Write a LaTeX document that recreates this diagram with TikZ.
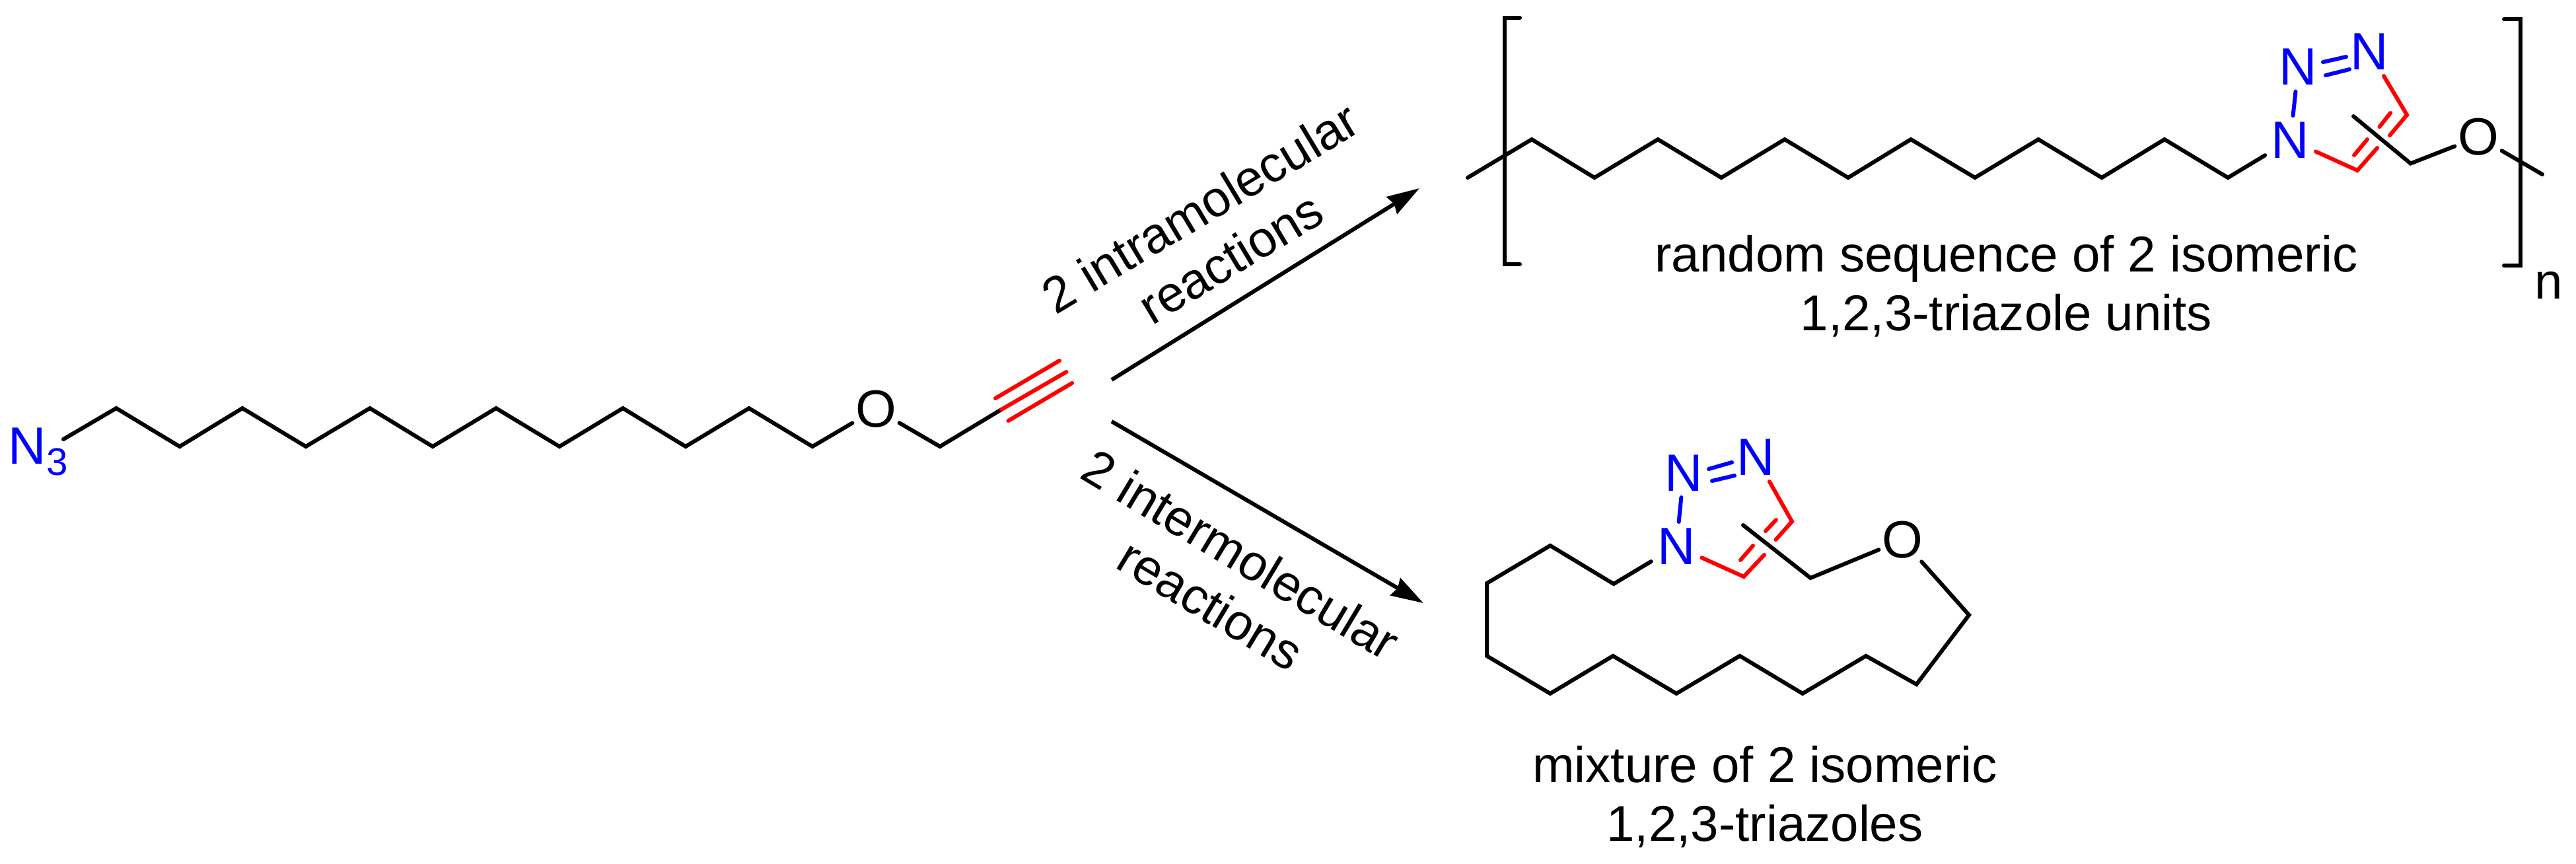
\documentclass[tikz,border=0pt]{standalone}
\usepackage{fontspec}
\setmainfont{Liberation Sans}
\usetikzlibrary{arrows.meta}
\tikzset{
	bond/.style={line width=0.6mm, line cap=round, line join=miter},
	redbond/.style={bond, color=red},
	bluebond/.style={bond, color=blue},
	rxnarrow/.style={line width=0.6mm, -{Stealth[length=4.9mm, width=3mm, inset=0.4mm]}},
	txt/.style={font=\fontsize{21.7}{25.2}\selectfont, align=center, inner sep=0},
	atomN/.style={font=\fontsize{22.6}{26}\selectfont, color=blue, inner sep=0.9mm},
	atomO/.style={font=\fontsize{22.6}{26}\selectfont, inner sep=0.4mm}
}

\begin{document}
\begin{tikzpicture}
		%%%%% START %%%%%
		\useasboundingbox (0, 0) rectangle (39, 13.07);
		
		\node[txt, font=\fontsize{22.6}{26}\selectfont, color=blue, anchor=base west] (azide) at (0.12, 6.05) {N\raisebox{-0.17cm}{\fontsize{16.6}{18}\selectfont 3}};
		\coordinate (azideend) at (0.96, 6.42);
		\node[atomO] (oa) at (13.26, 6.875) {O};
		
		\draw[bond] (azideend) -- (1.76, 6.89) -- (2.72, 6.31) -- (3.67, 6.89) -- (4.63, 6.31) -- (5.60, 6.89) -- (6.55, 6.31) -- (7.51, 6.89) -- (8.47, 6.31) -- (9.43, 6.89) -- (10.38, 6.31) -- (11.34, 6.89) -- (12.30, 6.31) -- (oa);
		\draw[bond] (oa) -- (14.23, 6.31) -- (15.16, 6.87) coordinate (yne);
		\draw[redbond] (yne) -- (16.145, 7.44);
		\draw[redbond] (15.07, 7.04) -- (16.04, 7.61);
		\draw[redbond] (15.265, 6.70) -- (16.23, 7.27);
		
		\coordinate (upstart) at (16.83, 7.32);
		\coordinate (uptip) at (21.49, 10.22);
		\coordinate (downstart) at (16.83, 6.69);
		\coordinate (downtip) at (21.55, 3.94);
		\draw[rxnarrow] (upstart) -- (uptip);
		\draw[rxnarrow] (downstart) -- (downtip);
		\node[txt, rotate=31] (intra) at (18.40, 9.55) {2 intramolecular\\reactions};
		\node[txt, rotate=-31] (inter) at (18.56, 4.30) {2 intermolecular\\reactions};
		
		% polymer
		\draw[bond] (23.01, 12.80) -- (22.78, 12.80) -- (22.78, 9.07) -- (23.01, 9.07);
		\draw[bond] (37.91, 12.78) -- (38.16, 12.78) -- (38.16, 9.05) -- (37.91, 9.05);
		\node[txt, anchor=base] (rep) at (38.585, 8.54) {n};
		\node[atomN] (na) at (34.675, 10.95) {N};
		\node[atomN] (nb) at (34.795, 12.055) {N};
		\node[atomN] (nc) at (35.87, 12.29) {N};
		\node[atomO] (ob) at (37.52, 10.995) {O};
		
		\draw[bond] (22.22, 10.38) -- (23.19, 10.96) -- (24.14, 10.38) -- (25.10, 10.96) -- (26.06, 10.38) -- (27.02, 10.96) -- (27.98, 10.38) -- (28.93, 10.96) -- (29.90, 10.38) -- (30.86, 10.96) -- (31.82, 10.38) -- (32.77, 10.96) -- (33.73, 10.38) -- (na);
		\draw[bluebond] (na) -- (nb);
		\draw[bluebond] (35.17, 12.13) -- (35.52, 12.21);
		\draw[bluebond] (35.21, 11.93) -- (35.57, 12.02);
		\draw[redbond] (nc) -- (36.44, 11.33) -- (36.18, 11.02);
		\draw[redbond] (35.99, 10.83) -- (35.69, 10.49) -- (na);
		\draw[redbond] (36.19, 11.36) -- (36.025, 11.15);
		\draw[redbond] (35.84, 10.96) -- (35.64, 10.72);
		\draw[bond] (35.63, 11.31) -- (36.495, 10.595) -- (ob);
		\draw[bond] (ob) -- (38.49, 10.43);
		\node[txt] (captop) at (30.375, 8.74) {random sequence of 2 isomeric\\1,2,3-triazole units};
		
		% macrocycle
		\node[atomN] (ma) at (25.38, 4.80) {N};
		\node[atomN] (mb) at (25.49, 5.91) {N};
		\node[atomN] (mc) at (26.58, 6.15) {N};
		\node[atomO] (oc) at (28.80, 4.895) {O};
		
		\draw[bluebond] (ma) -- (mb);
		\draw[bluebond] (25.87, 5.97) -- (26.22, 6.07);
		\draw[bluebond] (25.92, 5.79) -- (26.26, 5.87);
		\draw[redbond] (mc) -- (27.13, 5.175) -- (26.885, 4.90);
		\draw[redbond] (26.71, 4.67) -- (26.40, 4.34) -- (ma);
		\draw[redbond] (26.89, 5.20) -- (26.73, 5.03);
		\draw[redbond] (26.54, 4.81) -- (26.35, 4.59);
		\draw[bond] (26.39, 5.12) -- (27.41, 4.32) -- (oc);
		\draw[bond] (oc) -- (29.81, 3.76) -- (29.015, 2.71) -- (28.25, 3.14) -- (27.29, 2.57) -- (26.34, 3.14) -- (25.38, 2.57) -- (24.42, 3.14) -- (23.47, 2.57) -- (22.51, 3.14) -- (22.51, 4.24) -- (23.47, 4.81) -- (24.43, 4.23) -- (ma);
		\node[txt] (capbot) at (26.72, 1.005) {mixture of 2 isomeric\\1,2,3-triazoles};
		%%%%% END %%%%%
	\end{tikzpicture}
\end{document}
